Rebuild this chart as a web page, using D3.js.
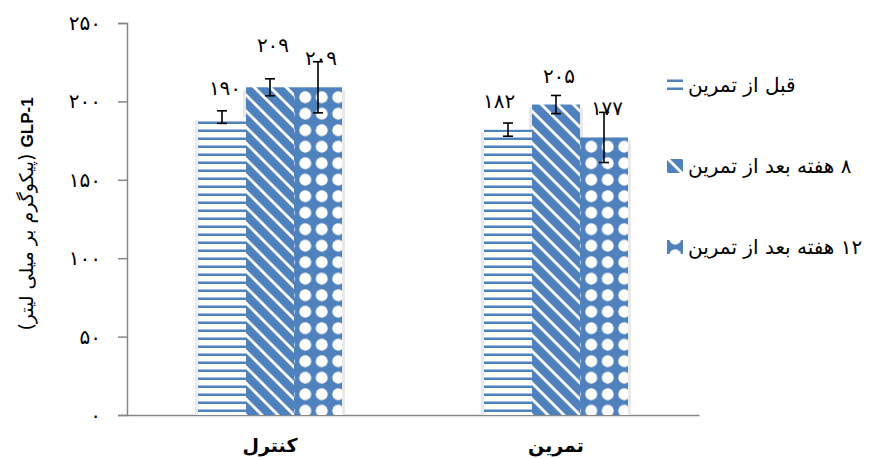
<!DOCTYPE html>
<html>
<head>
<meta charset="utf-8">
<script src="https://cdn.jsdelivr.net/npm/d3@7"></script>
<style>
  body { margin: 0; background: #fff; }
  text { font-family: 'DejaVu Sans', 'Liberation Sans', sans-serif; }
</style>
</head>
<body>
<div id="wrapper"></div>
<script>
// data
const categories = ['کنترل', 'تمرین']
const seriesNames = ['قبل از تمرین', '۸ هفته بعد از تمرین', '۱۲ هفته بعد از تمرین']
const controlValues = [190, 209, 209]
const exerciseValues = [182, 198, 177]
const controlErrors = [4, 5.4, 16.3]
const exerciseErrors = [4.2, 5.8, 16]
const controlLabels = ['۱۹۰', '۲۰۹', '۲۰۹']
const exerciseLabels = ['۱۸۲', '۲۰۵', '۱۷۷']
const yTicks = [0, 50, 100, 150, 200, 250]

const dimensions = {
  width: 873,
  height: 459,
  margin: { top: 23, right: 174, bottom: 44, left: 127 },
}
dimensions.boundedWidth = dimensions.width - dimensions.margin.left - dimensions.margin.right
dimensions.boundedHeight = dimensions.height - dimensions.margin.top - dimensions.margin.bottom

const blue = '#4F81BD'
const axisColor = '#868686'
const faDigits = (d) => String(d).replace(/\d/g, (c) => '۰۱۲۳۴۵۶۷۸۹'[c])

const rows = categories.map((c, i) => ({
  category: c,
  values: i == 0 ? controlValues : exerciseValues,
  errors: i == 0 ? controlErrors : exerciseErrors,
  labels: i == 0 ? controlLabels : exerciseLabels,
}))
// manual label nudges (labels moved by hand in the original)
const labelNudge = [
  [[0, 0], [0, -13], [0, 0]],
  [[-12, 0], [0, 0], [0, 0]],
]

const wrapper = d3
  .select('#wrapper')
  .append('svg')
  .attr('width', dimensions.width)
  .attr('height', dimensions.height)

const defs = wrapper.append('defs')

// pattern 1: horizontal lines
const p1 = defs.append('pattern').attr('id', 'pat-h')
  .attr('patternUnits', 'userSpaceOnUse').attr('width', 8).attr('height', 8)
p1.append('rect').attr('width', 8).attr('height', 8).attr('fill', '#fff')
p1.append('rect').attr('y', 2).attr('width', 8).attr('height', 1).attr('fill', '#A7BFDF')
p1.append('rect').attr('y', 3).attr('width', 8).attr('height', 2).attr('fill', blue)

// pattern 2: wide downward diagonal
const p2 = defs.append('pattern').attr('id', 'pat-d')
  .attr('patternUnits', 'userSpaceOnUse').attr('width', 16).attr('height', 16)
p2.append('rect').attr('width', 16).attr('height', 16).attr('fill', '#fff')
p2.append('path')
  .attr('d', 'M0,0 L6,0 L16,10 L16,16 L10,16 L0,6 Z M10,0 L16,0 L16,6 Z M0,10 L6,16 L0,16 Z')
  .attr('fill', blue)

// pattern 3: white dots on blue
const p3 = defs.append('pattern').attr('id', 'pat-o')
  .attr('patternUnits', 'userSpaceOnUse').attr('width', 16.5).attr('height', 16.5)
p3.append('rect').attr('width', 16.5).attr('height', 16.5).attr('fill', blue)
p3.append('circle').attr('cx', 8.25).attr('cy', 8.25).attr('r', 6).attr('fill', '#fff')

const patterns = ['url(#pat-h)', 'url(#pat-d)', 'url(#pat-o)']

const bounds = wrapper
  .append('g')
  .attr('transform', `translate(${dimensions.margin.left}, ${dimensions.margin.top})`)

// Scales
const xScale = d3.scaleBand().domain(categories).range([0, dimensions.boundedWidth])
const groupWidth = 144
const xInner = d3.scaleBand().domain(seriesNames).range([0, groupWidth])
const yScale = d3.scaleLinear().domain([0, 250]).range([dimensions.boundedHeight, 0])

// y axis
const yAxis = bounds
  .append('g')
  .call(d3.axisLeft(yScale).tickValues(yTicks).tickSize(9).tickPadding(17).tickFormat(faDigits))
yAxis.select('.domain').attr('stroke', axisColor).attr('stroke-width', 1.5)
yAxis.selectAll('.tick line').attr('stroke', axisColor).attr('stroke-width', 1.5)
yAxis.selectAll('.tick text')
  .attr('fill', '#000')
  .style('font-size', '20px')
  .style('letter-spacing', '8px')

// x axis
const xAxis = bounds
  .append('g')
  .attr('transform', `translate(0, ${dimensions.boundedHeight})`)
  .call(d3.axisBottom(xScale).tickSize(0).tickPadding(24))
xAxis.select('.domain').attr('stroke', axisColor).attr('stroke-width', 1.5)
xAxis.selectAll('.tick text')
  .attr('fill', '#000')
  .style('font-size', '19px')
  .style('font-weight', 'bold')

// bars
const groups = bounds
  .append('g')
  .selectAll('g')
  .data(rows)
  .enter()
  .append('g')
  .attr('transform', (d) => `translate(${xScale(d.category) + (xScale.bandwidth() - groupWidth) / 2}, 0)`)

// soft shadow behind each bar group
groups.selectAll('.shadow')
  .data((d) => d.values)
  .enter()
  .append('rect')
  .attr('class', 'shadow')
  .attr('x', (d, i) => xInner(seriesNames[i]) - 3)
  .attr('y', (d) => yScale(d) + 3)
  .attr('width', xInner.bandwidth() + 6)
  .attr('height', (d) => yScale(0) - yScale(d) - 3)
  .attr('fill', '#e9e9e9')

groups.selectAll('.bar')
  .data((d) => d.values)
  .enter()
  .append('rect')
  .attr('class', 'bar')
  .attr('x', (d, i) => xInner(seriesNames[i]))
  .attr('y', (d) => yScale(d))
  .attr('width', xInner.bandwidth())
  .attr('height', (d) => yScale(0) - yScale(d))
  .attr('fill', (d, i) => patterns[i])

// data labels
groups.selectAll('.label')
  .data((d, gi) => d.labels.map((l, i) => ({ l, v: d.values[i], i, gi })))
  .enter()
  .append('text')
  .attr('class', 'label')
  .attr('x', (d) => xInner(seriesNames[d.i]) + xInner.bandwidth() / 2 + labelNudge[d.gi][d.i][0] + 3)
  .attr('y', (d) => yScale(d.v) - 22 + labelNudge[d.gi][d.i][1])
  .attr('text-anchor', 'middle')
  .style('font-size', '20px')
  .style('letter-spacing', '7px')
  .text((d) => d.l)

// error bars
const errs = groups.selectAll('.err')
  .data((d) => d.values.map((v, i) => ({ v, e: d.errors[i], i })))
  .enter()
  .append('g')
  .attr('class', 'err')
  .attr('stroke', '#000')
  .attr('stroke-width', 1.6)
const cx = (d) => xInner(seriesNames[d.i]) + xInner.bandwidth() / 2
errs.append('line')
  .attr('x1', cx).attr('x2', cx)
  .attr('y1', (d) => yScale(d.v + d.e)).attr('y2', (d) => yScale(d.v - d.e))
errs.append('line')
  .attr('x1', (d) => cx(d) - 5).attr('x2', (d) => cx(d) + 5)
  .attr('y1', (d) => yScale(d.v + d.e)).attr('y2', (d) => yScale(d.v + d.e))
errs.append('line')
  .attr('x1', (d) => cx(d) - 5).attr('x2', (d) => cx(d) + 5)
  .attr('y1', (d) => yScale(d.v - d.e)).attr('y2', (d) => yScale(d.v - d.e))

// y axis title
const yTitle = wrapper
  .append('text')
  .attr('transform', `translate(33, 214) rotate(-90)`)
  .attr('text-anchor', 'middle')
  .attr('direction', 'rtl')
  .style('font-size', '19px')
yTitle.append('tspan')
  .style('font-family', "'Liberation Sans', Arial, sans-serif")
  .style('font-weight', 'bold')
  .style('font-size', '17px')
  .text('GLP-1')
yTitle.append('tspan').text(' (پیکوگرم بر میلی لیتر)')

// legend
const legend = wrapper
  .append('g')
  .attr('transform', 'translate(667, 85)')
const legendItems = legend
  .selectAll('g')
  .data(seriesNames)
  .enter()
  .append('g')
  .attr('transform', (d, i) => `translate(0, ${i * 81})`)
legendItems.append('rect')
  .attr('x', 0).attr('y', -7)
  .attr('width', 16).attr('height', 14)
  .attr('fill', (d, i) => patterns[i])
legendItems.append('text')
  .attr('x', 21)
  .attr('y', 7)
  .attr('direction', 'rtl')
  .attr('text-anchor', 'end')
  .style('font-size', '20px')
  .text((d) => d)
</script>
</body>
</html>
